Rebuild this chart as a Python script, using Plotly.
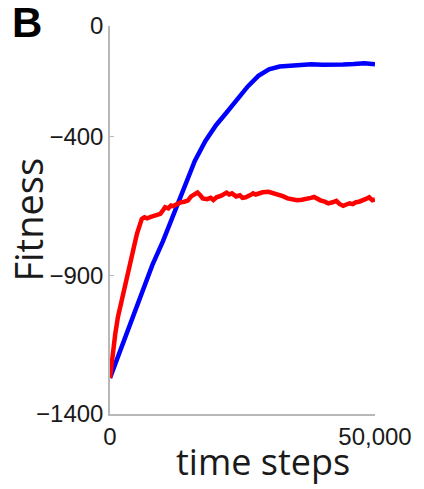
import plotly.graph_objects as go

# time steps (in steps) and fitness values
blue_x = [0, 2000, 4000, 6000, 8000, 10000, 12000, 14000, 16000, 18000, 20000,
          22000, 24000, 26000, 28000, 30000, 32000, 34000, 36000, 38000, 40000,
          42000, 44000, 46000, 48000, 50000]
blue_y = [-1270, -1168, -1066, -961, -862, -776, -680, -576, -487, -415, -358,
          -312, -262, -218, -180, -156, -146, -143, -141, -138, -140,
          -141, -139, -137, -134, -138]

red_x = [0, 500, 1000, 1500, 2000, 2700, 3300, 4000, 4600, 5100, 5600, 6000,
         6500, 7000, 7700, 8300, 9000, 9500, 10000, 10400, 11000, 11500, 11900,
         12500, 13000, 13400, 14000, 14700, 15300, 16000, 16500, 17000, 17500,
         18300, 19000, 19500, 20100, 21000, 22000, 22500, 23000, 23800, 24500,
         25000, 25600, 26500, 27000, 27500, 28800, 29900, 30800, 31700, 32600,
         33500, 34400, 35300, 36200, 37200, 37900, 38500, 39100, 39700, 40500,
         41200, 42000, 42700, 43300, 44000, 44600, 45200, 45800, 46400, 47000,
         47600, 48300, 48900, 49500, 50000]
red_y = [-1270, -1180, -1110, -1050, -1005, -961, -900, -843, -790, -749, -715, -696,
         -690, -694, -689, -686, -682, -678, -665, -654, -658, -648, -650,
         -644, -640, -636, -634, -630, -615, -604, -601, -610, -622,
         -625, -620, -628, -618, -612, -601, -608, -604, -615, -611,
         -620, -618, -610, -604, -608, -600, -598, -603, -605, -614,
         -622, -626, -629, -627, -625, -620, -617, -624, -629, -634,
         -640, -636, -631, -642, -649, -644, -640, -643, -636, -634,
         -631, -624, -618, -629, -626]

y_ticks = [0, -400, -900, -1400]
y_tick_text = ["0", "\u2212400", "\u2212900", "\u22121400"]
x_ticks = [0, 50000]
x_tick_text = ["0", "50,000"]

fig = go.Figure()
fig.add_trace(go.Scatter(x=blue_x, y=blue_y, mode="lines",
                         line=dict(color="#0000ff", width=4.5), showlegend=False))
fig.add_trace(go.Scatter(x=red_x, y=red_y, mode="lines",
                         line=dict(color="#ff0000", width=4.5), showlegend=False))

axis_common = dict(showline=True, linecolor="#b8b8b8", linewidth=1.5,
                   showgrid=False, zeroline=False, ticks="inside", ticklen=4,
                   tickcolor="#b8b8b8",
                   tickfont=dict(family="Liberation Sans", size=24, color="#1a1a1a"))

fig.update_layout(
    width=424, height=489,
    margin=dict(l=110, r=41, t=18, b=75),
    plot_bgcolor="white", paper_bgcolor="white",
    xaxis=dict(range=[0, 50000], tickvals=x_ticks, ticktext=x_tick_text, **axis_common),
    yaxis=dict(range=[-1400, 0], tickvals=y_ticks, ticktext=y_tick_text, **axis_common),
    annotations=[
        dict(text="Fitness", xref="paper", yref="paper", x=-0.311, y=0.5,
             textangle=-90, showarrow=False, xanchor="center", yanchor="middle",
             font=dict(family="Open Sans", size=38, color="#1a1a1a")),
        dict(text="time steps", xref="paper", yref="paper", x=(268 - 110) / 273,
             y=(414 - 462) / 396, showarrow=False, xanchor="center", yanchor="middle",
             font=dict(family="Open Sans", size=36, color="#1a1a1a")),
        dict(text="<b>B</b>", xref="paper", yref="paper", x=(24 - 110) / 273,
             y=(414 - 14) / 396, showarrow=False, xanchor="center", yanchor="middle",
             font=dict(family="Liberation Sans", size=42, color="black")),
    ],
)

fig.write_html("out.html")
